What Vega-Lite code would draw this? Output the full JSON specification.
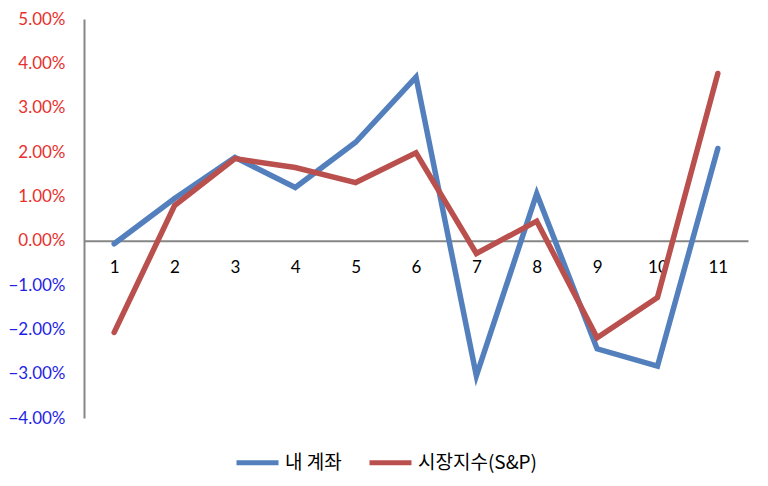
{
  "$schema": "https://vega.github.io/schema/vega-lite/v6.json",
  "width": 664,
  "height": 399,
  "autosize": "none",
  "padding": {"left": 84, "top": 19, "right": 20, "bottom": 68},
  "background": "white",
  "config": {"view": {"stroke": null}},
  "data": {
    "values": [
      {"month": 1, "series": "내 계좌", "value": -0.0007},
      {"month": 2, "series": "내 계좌", "value": 0.0095},
      {"month": 3, "series": "내 계좌", "value": 0.0188},
      {"month": 4, "series": "내 계좌", "value": 0.0120},
      {"month": 5, "series": "내 계좌", "value": 0.0222},
      {"month": 6, "series": "내 계좌", "value": 0.0369},
      {"month": 7, "series": "내 계좌", "value": -0.0305},
      {"month": 8, "series": "내 계좌", "value": 0.0106},
      {"month": 9, "series": "내 계좌", "value": -0.0244},
      {"month": 10, "series": "내 계좌", "value": -0.0283},
      {"month": 11, "series": "내 계좌", "value": 0.0208},
      {"month": 1, "series": "시장지수(S&P)", "value": -0.0207},
      {"month": 2, "series": "시장지수(S&P)", "value": 0.0079},
      {"month": 3, "series": "시장지수(S&P)", "value": 0.0185},
      {"month": 4, "series": "시장지수(S&P)", "value": 0.0165},
      {"month": 5, "series": "시장지수(S&P)", "value": 0.0131},
      {"month": 6, "series": "시장지수(S&P)", "value": 0.0198},
      {"month": 7, "series": "시장지수(S&P)", "value": -0.0029},
      {"month": 8, "series": "시장지수(S&P)", "value": 0.0044},
      {"month": 9, "series": "시장지수(S&P)", "value": -0.0219},
      {"month": 10, "series": "시장지수(S&P)", "value": -0.0128},
      {"month": 11, "series": "시장지수(S&P)", "value": 0.0377}
    ]
  },
  "mark": {"type": "line", "strokeWidth": 5.5, "strokeJoin": "miter", "strokeCap": "round"},
  "encoding": {
    "x": {
      "field": "month",
      "type": "ordinal",
      "scale": {"type": "point", "padding": 0.5},
      "axis": {
        "title": null,
        "orient": "bottom",
        "offset": -177.3,
        "labelAngle": 0,
        "ticks": false,
        "domainColor": "#868686",
        "domainWidth": 2,
        "labelFont": "Lato",
        "labelFontSize": 17,
        "labelColor": "#000000",
        "labelPadding": 19
      }
    },
    "y": {
      "field": "value",
      "type": "quantitative",
      "scale": {"domain": [-0.04, 0.05], "nice": false, "zero": false},
      "axis": {
        "title": null,
        "values": [-0.04, -0.03, -0.02, -0.01, 0, 0.01, 0.02, 0.03, 0.04, 0.05],
        "format": ".2%",
        "grid": false,
        "ticks": false,
        "domainColor": "#868686",
        "domainWidth": 2,
        "labelFont": "Lato",
        "labelFontSize": 17,
        "labelPadding": 19,
        "labelColor": {"condition": {"test": "datum.value < 0", "value": "#1F1FE6"}, "value": "#E8302C"}
      }
    },
    "color": {
      "field": "series",
      "type": "nominal",
      "scale": {"domain": ["내 계좌", "시장지수(S&P)"], "range": ["#5380BD", "#B9504D"]},
      "legend": {
        "title": null,
        "orient": "none",
        "direction": "horizontal",
        "legendX": 150,
        "legendY": 420,
        "symbolType": "stroke",
        "symbolSize": 1764,
        "symbolStrokeWidth": 5,
        "labelFont": "Noto Sans CJK KR",
        "labelFontSize": 19,
        "labelColor": "#000000",
        "columnPadding": 17,
        "labelOffset": 4
      }
    }
  }
}
